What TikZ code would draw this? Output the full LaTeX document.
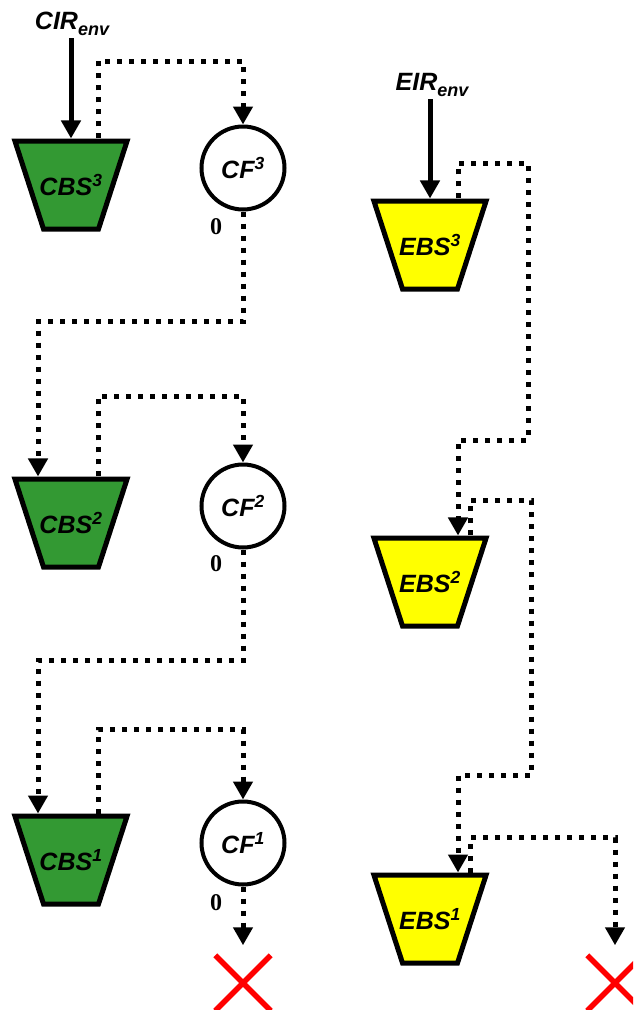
\documentclass[tikz,border=0pt]{standalone}
\usepackage{fontspec}
\setmainfont{Liberation Sans}
\newfontfamily\zerofont{Liberation Serif}
\usetikzlibrary{shapes.geometric,shapes.misc,arrows.meta,calc,positioning}
\definecolor{boxgreen}{RGB}{51,153,51}
\definecolor{boxyellow}{RGB}{255,255,0}
\definecolor{crossred}{RGB}{255,0,0}

\newcommand{\envsub}{\raisebox{-0.26em}{\fontsize{18}{20}\selectfont env}}

\tikzset{
  labelfont/.style={font=\fontsize{25}{28}\selectfont\bfseries\itshape},
  bucket/.style={trapezium, shape border rotate=180, trapezium angle=72,
    inner xsep=27.5pt, inner ysep=44pt, draw=black, line width=5pt,
    label={[labelfont, inner sep=0pt]center:#1}},
  cbucket/.style={bucket=#1, fill=boxgreen},
  ebucket/.style={bucket=#1, fill=boxyellow},
  filter/.style={circle, draw=black, line width=4pt, minimum size=83pt,
    inner sep=0pt, labelfont},
  src/.style={labelfont, inner sep=2pt},
  zerolbl/.style={font=\zerofont\fontsize{24}{28}\selectfont\bfseries, inner sep=0pt},
  reject/.style={cross out, draw=crossred, line width=5.5pt, minimum size=50pt, inner sep=0pt},
  feed/.style={line width=5pt, -{Triangle[width=19pt,length=18pt]}},
  flow/.style={line width=5pt, dash pattern=on 5pt off 7pt,
    -{Triangle[width=19pt,length=18pt]}},
}

\begin{document}
\begin{tikzpicture}[x=1pt, y=-1pt]
    \useasboundingbox (0,0) rectangle (633,1010);
    \clip (0,0) rectangle (633,1010);

    % CIR side: buckets and filters
    \node[src] (cir) at (72,24) {CIR\envsub};
    \node[cbucket={CBS\textsuperscript{3}}] (cbs3) at (71,185) {};
    \node[cbucket={CBS\textsuperscript{2}}] (cbs2) at (71,523) {};
    \node[cbucket={CBS\textsuperscript{1}}] (cbs1) at (71,860) {};
    \node[filter] (cf3) at (243,168) {CF\textsuperscript{3}};
    \node[filter] (cf2) at (243,506) {CF\textsuperscript{2}};
    \node[filter] (cf1) at (243,843) {CF\textsuperscript{1}};

    % EIR side: buckets
    \node[src] (eir) at (432,85) {EIR\envsub};
    \node[ebucket={EBS\textsuperscript{3}}] (ebs3) at (430,245) {};
    \node[ebucket={EBS\textsuperscript{2}}] (ebs2) at (430,582) {};
    \node[ebucket={EBS\textsuperscript{1}}] (ebs1) at (430,919) {};

    % Zero outputs of the filters
    \node[zerolbl] (z3) at ($(cf3.south)+(-27,15)$) {0};
    \node[zerolbl] (z2) at ($(cf2.south)+(-27,14)$) {0};
    \node[zerolbl] (z1) at ($(cf1.south)+(-27,16)$) {0};

    % Discarded overflow
    \node[reject] (end1) at (243,983) {};
    \node[reject] (end2) at (615,983) {};

    % Incoming rates
    \draw[feed] (cir.south -| cbs3.north) -- (cbs3.north);
    \draw[feed] (eir.south -| ebs3.north) -- (ebs3.north);

    % Overflow from C buckets to filters and downwards
    \draw[flow] ([xshift=27pt]cbs3.north) -- ++(0,-77) -| (cf3.north);
    \draw[flow] (cf3.south) -- (cf3.south |- 0,321) -| ([xshift=-33pt]cbs2.north);
    \draw[flow] ([xshift=27pt]cbs2.north) -- ++(0,-80) -| (cf2.north);
    \draw[flow] (cf2.south) -- (cf2.south |- 0,660) -| ([xshift=-33pt]cbs1.north);
    \draw[flow] ([xshift=27pt]cbs1.north) -- ++(0,-84) -| (cf1.north);
    \draw[flow, shorten >=10pt] (cf1.south) -- (end1.north);

    % Overflow between E buckets
    \draw[flow] ([xshift=28pt]ebs3.north) -- ++(0,-35) -| (528,440) -| ([xshift=28pt]ebs2.north);
    \draw[flow] ([xshift=40pt]ebs2.north) -- ++(0,-35) -| (531,775) -| ([xshift=28pt]ebs1.north);
    \draw[flow, shorten >=10pt] ([xshift=40pt]ebs1.north) -- ++(0,-35) -| (end2.north);
\end{tikzpicture}
\end{document}
